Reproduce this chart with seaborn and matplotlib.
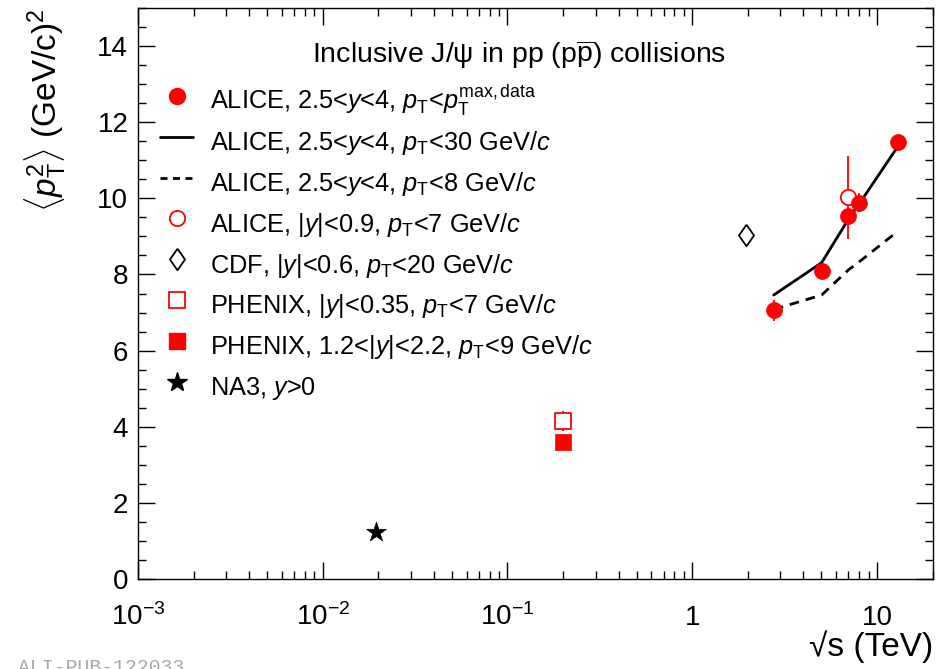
import numpy as np
import pandas as pd
import seaborn as sns
import matplotlib
matplotlib.use("Agg")
import matplotlib.pyplot as plt
from matplotlib.lines import Line2D
from matplotlib.ticker import FixedLocator, MultipleLocator, NullFormatter, FixedFormatter, LogLocator

# ---------------- data ----------------
alice_fwd_sqrts = [2.76, 5.02, 7.0, 8.0, 13.0]
alice_fwd_pt2 = [7.06, 8.10, 9.53, 9.89, 11.47]
alice_fwd_err = [0.28, 0.15, 0.20, 0.26, 0.15]
alice_pt30_pt2 = [7.46, 8.31, 9.45, 9.85, 11.37]
alice_pt8_pt2 = [7.08, 7.46, 8.12, 8.33, 9.14]

alice_mid_sqrts = [7.0]
alice_mid_pt2 = [10.03]
alice_mid_err = [1.09]

cdf_sqrts = [1.96]
cdf_pt2 = [9.03]

phenix_mid_sqrts = [0.2]
phenix_mid_pt2 = [4.15]
phenix_mid_err = [0.26]

phenix_fwd_sqrts = [0.2]
phenix_fwd_pt2 = [3.60]
phenix_fwd_err = [0.10]

na3_sqrts = [0.0194]
na3_pt2 = [1.23]

x_ticks = [1e-3, 1e-2, 1e-1, 1, 10]
x_ticklabels = [r"$10^{-3}$", r"$10^{-2}$", r"$10^{-1}$", "1", "10"]
y_ticks = [0, 2, 4, 6, 8, 10, 12, 14]

legend_labels = [
    r"ALICE, 2.5<$y$<4, $p_{\mathrm{T}}$<$p_{\mathrm{T}}^{\mathrm{max,data}}$",
    r"ALICE, 2.5<$y$<4, $p_{\mathrm{T}}$<30 GeV/$c$",
    r"ALICE, 2.5<$y$<4, $p_{\mathrm{T}}$<8 GeV/$c$",
    r"ALICE, |$y$|<0.9, $p_{\mathrm{T}}$<7 GeV/$c$",
    r"CDF, |$y$|<0.6, $p_{\mathrm{T}}$<20 GeV/$c$",
    r"PHENIX, |$y$|<0.35, $p_{\mathrm{T}}$<7 GeV/$c$",
    r"PHENIX, 1.2<|$y$|<2.2, $p_{\mathrm{T}}$<9 GeV/$c$",
    r"NA3, $y$>0",
]

# ---------------- style ----------------
sns.set_theme(style="ticks")
plt.rcParams["font.family"] = ["Liberation Sans", "DejaVu Sans"]
plt.rcParams["mathtext.fontset"] = "custom"
plt.rcParams["mathtext.rm"] = "Liberation Sans"
plt.rcParams["mathtext.it"] = "Liberation Sans:italic"
plt.rcParams["mathtext.bf"] = "Liberation Sans:bold"
plt.rcParams["mathtext.sf"] = "Liberation Sans"
plt.rcParams["axes.linewidth"] = 1.0
for key in ["text.color", "axes.labelcolor", "xtick.color", "ytick.color", "axes.edgecolor"]:
    plt.rcParams[key] = "black"

RED = "#ff0000"
diamond = [(0, 1), (0.7, 0), (0, -1), (-0.7, 0), (0, 1)]

fig = plt.figure(figsize=(9.51, 6.69), dpi=100)
ax = fig.add_axes([138 / 951, 1 - 579 / 669, 795 / 951, 571 / 669])
ax.set_xscale("log")

# lines
sns.lineplot(x=alice_fwd_sqrts, y=alice_pt30_pt2, ax=ax, color="black", lw=2.0, zorder=2)
sns.lineplot(x=alice_fwd_sqrts, y=alice_pt8_pt2, ax=ax, color="black", lw=2.0, zorder=2)
ax.lines[-1].set_linestyle((0, (3.5, 2.5)))

# error bars
ax.errorbar(alice_fwd_sqrts, alice_fwd_pt2, yerr=alice_fwd_err, fmt="none", ecolor=RED, elinewidth=1.3, zorder=3)
ax.errorbar(alice_mid_sqrts, alice_mid_pt2, yerr=alice_mid_err, fmt="none", ecolor=RED, elinewidth=1.3, zorder=3)
ax.errorbar(phenix_mid_sqrts, phenix_mid_pt2, yerr=phenix_mid_err, fmt="none", ecolor=RED, elinewidth=1.3, zorder=3)
ax.errorbar(phenix_fwd_sqrts, phenix_fwd_pt2, yerr=phenix_fwd_err, fmt="none", ecolor=RED, elinewidth=1.3, zorder=3)

# markers
sns.scatterplot(x=alice_mid_sqrts, y=alice_mid_pt2, ax=ax, marker="o", s=11.0 ** 2,
                facecolor="white", edgecolor=RED, linewidth=1.3, zorder=4)
sns.scatterplot(x=alice_fwd_sqrts, y=alice_fwd_pt2, ax=ax, marker="o", s=11.5 ** 2,
                color=RED, edgecolor=RED, linewidth=0.5, zorder=5)
sns.scatterplot(x=cdf_sqrts, y=cdf_pt2, ax=ax, marker=diamond, s=15.5 ** 2,
                facecolor="white", edgecolor="black", linewidth=1.3, zorder=4)
sns.scatterplot(x=phenix_mid_sqrts, y=phenix_mid_pt2, ax=ax, marker="s", s=11.0 ** 2,
                facecolor="white", edgecolor=RED, linewidth=1.3, zorder=4)
sns.scatterplot(x=phenix_fwd_sqrts, y=phenix_fwd_pt2, ax=ax, marker="s", s=11.0 ** 2,
                color=RED, edgecolor=RED, linewidth=0.5, zorder=4)
sns.scatterplot(x=na3_sqrts, y=na3_pt2, ax=ax, marker="*", s=15.0 ** 2,
                color="black", edgecolor="black", linewidth=0.5, zorder=4)

# axes
ax.set_xlim(1e-3, 20.1)
ax.set_ylim(0, 15)
ax.xaxis.set_major_locator(FixedLocator(x_ticks))
ax.xaxis.set_major_formatter(FixedFormatter(x_ticklabels))
ax.xaxis.set_minor_locator(LogLocator(base=10, subs=np.arange(2, 10)))
ax.xaxis.set_minor_formatter(NullFormatter())
ax.yaxis.set_major_locator(FixedLocator(y_ticks))
ax.yaxis.set_minor_locator(MultipleLocator(0.5))
ax.tick_params(which="both", direction="in", top=True, right=True, width=1.0, color="black")
ax.tick_params(which="major", length=12.2)
ax.tick_params(which="minor", length=5.8)
ax.tick_params(axis="y", which="major", labelsize=20, pad=7)
ax.tick_params(axis="x", which="major", labelsize=20, pad=33)
for lab in ax.get_xticklabels():
    lab.set_va("baseline")

ax.set_xlabel("√s (TeV)", fontsize=24, loc="right")
ax.xaxis.set_label_coords(1.0, -0.089)
ax.set_ylabel(r"$\langle p_{\mathrm{T}}^{2}\rangle$ (GeV/c)$^{2}$", fontsize=24, loc="top")
ax.yaxis.set_label_coords(-0.088, 1.0)

# legend
handles = [
    Line2D([], [], ls="none", marker="o", color=RED, ms=11.5),
    Line2D([], [], color="black", lw=2.0),
    Line2D([], [], color="black", lw=2.0, ls=(0, (2.5, 2.0))),
    Line2D([], [], ls="none", marker="o", mfc="white", mec=RED, mew=1.3, ms=11.0),
    Line2D([], [], ls="none", marker=diamond, mfc="white", mec="black", mew=1.3, ms=15.5),
    Line2D([], [], ls="none", marker="s", mfc="white", mec=RED, mew=1.3, ms=11.0),
    Line2D([], [], ls="none", marker="s", color=RED, ms=11.0),
    Line2D([], [], ls="none", marker="*", color="black", ms=15.0),
]
leg = ax.legend(handles, legend_labels, loc="upper left", bbox_to_anchor=(0.0277, 0.870),
                frameon=False, fontsize=18.3, handlelength=1.3, handletextpad=0.67,
                handleheight=1.85, labelspacing=0.16, borderpad=0, borderaxespad=0)

ax.text(0.479, 0.904, r"Inclusive J/ψ in pp (p$\overline{\mathrm{p}}$) collisions",
        transform=ax.transAxes, ha="center", va="baseline", fontsize=20.5)

fig.text(18 / 951, 0.017, "ALI-PUB-122033", fontsize=14.3, color="#a8a8a8",
         family=["Liberation Mono", "DejaVu Sans Mono"], ha="left", va="top")

fig.savefig("out.png", dpi=100)
